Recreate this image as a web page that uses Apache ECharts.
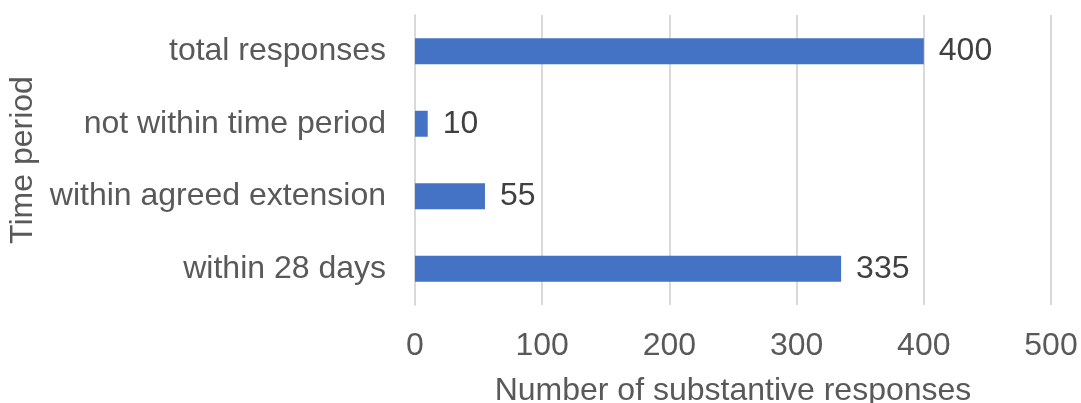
<!DOCTYPE html>
<html>
<head>
<meta charset="utf-8">
<script src="https://cdn.jsdelivr.net/npm/echarts@6/dist/echarts.min.js"></script>
<style>
  html, body { margin: 0; padding: 0; background: #fff; }
  #chart { width: 1081px; height: 403px; }
</style>
</head>
<body>
<div id="chart"></div>
<script>
// Response counts by time period (bottom-to-top order on the category axis)
const categories = ['within 28 days', 'within agreed extension', 'not within time period', 'total responses'];
const responses = [335, 55, 10, 400];
const xTicks = [0, 100, 200, 300, 400, 500];

const FONT = '"Liberation Sans", Arial, sans-serif';
const FS = 32;
const chart = echarts.init(document.getElementById('chart'), null, { renderer: 'canvas' });

chart.setOption({
  animation: false,
  backgroundColor: '#ffffff',
  grid: { left: 415, right: 30, top: 15, height: 290, containLabel: false, outerBoundsMode: 'none' },
  xAxis: {
    type: 'value',
    min: xTicks[0],
    max: xTicks[xTicks.length - 1],
    interval: xTicks[1] - xTicks[0],
    name: 'Number of substantive responses',
    nameLocation: 'middle',
    nameGap: 70,
    nameTextStyle: { color: '#595959', fontSize: FS, fontFamily: FONT },
    axisLine: { show: false },
    axisTick: { show: false },
    axisLabel: { color: '#595959', fontSize: FS, fontFamily: FONT, margin: 25 },
    splitLine: { show: true, lineStyle: { color: '#d9d9d9', width: 2 } }
  },
  yAxis: {
    type: 'category',
    data: categories,
    name: 'Time period',
    nameLocation: 'middle',
    nameGap: 365,
    nameRotate: 90,
    nameTextStyle: { color: '#595959', fontSize: FS, fontFamily: FONT },
    axisLine: { show: true, lineStyle: { color: '#d9d9d9', width: 2 } },
    axisTick: { show: false },
    axisLabel: { color: '#595959', fontSize: FS, fontFamily: FONT, margin: 29 },
    splitLine: { show: false }
  },
  series: [{
    type: 'bar',
    data: responses,
    barWidth: 26,
    itemStyle: { color: '#4472C4' },
    label: {
      show: true,
      position: 'right',
      distance: 15,
      color: '#404040',
      fontSize: FS,
      fontFamily: FONT
    }
  }]
});
</script>
</body>
</html>
